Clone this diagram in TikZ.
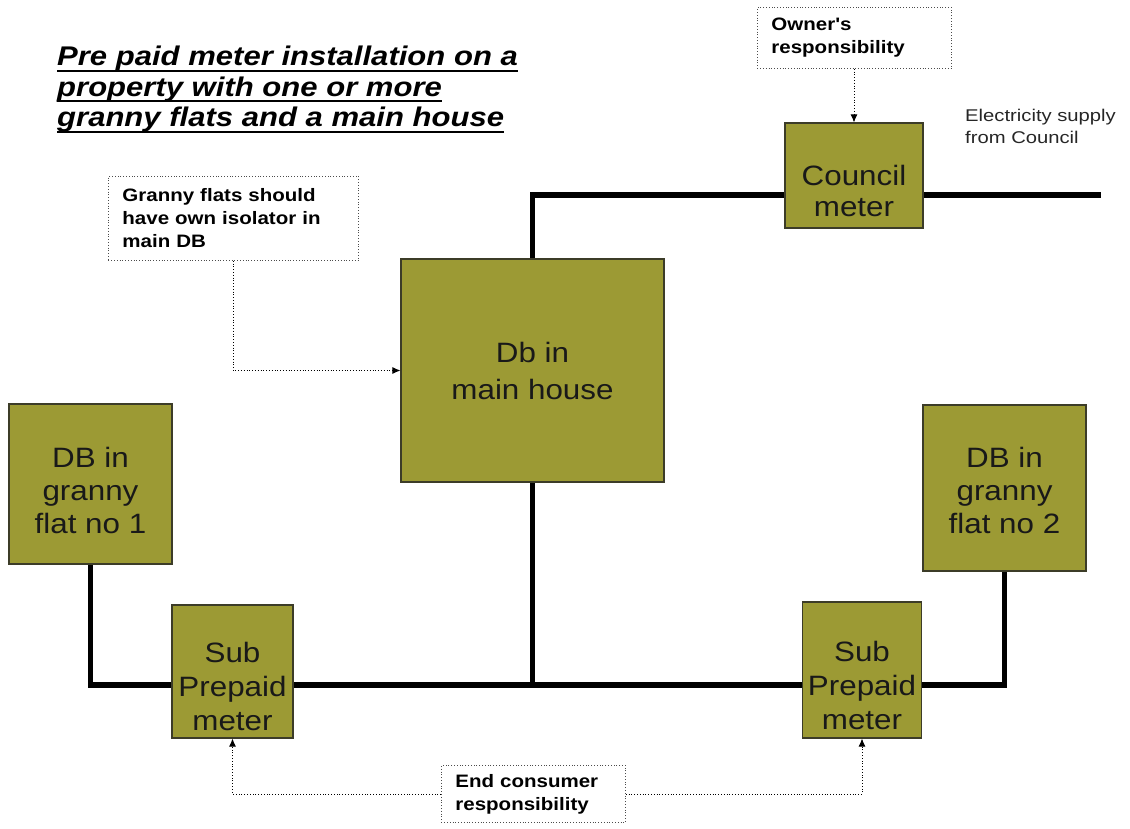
\documentclass[tikz,border=0pt]{standalone}
\usepackage{fontspec}
\setmainfont{Liberation Sans}
\newfontfamily\boxfont[FakeStretch=1.12]{Liberation Sans}
\newfontfamily\notefont[FakeStretch=1.14]{Liberation Sans}
\newfontfamily\supfont[FakeStretch=1.19]{Liberation Sans}
\newfontfamily\titlefont[FakeStretch=1.15]{Liberation Sans}
\usetikzlibrary{arrows.meta,backgrounds}
\definecolor{olivebox}{RGB}{156,154,52}
\definecolor{oliveedge}{RGB}{60,60,40}
\newcommand\titleul[1]{\setbox0\hbox{#1}\rlap{\rule[-6pt]{\wd0}{2pt}}\box0}
\tikzset{
  unit/.style={draw=oliveedge, line width=1.2pt, fill=olivebox, inner sep=0pt},
  unittext/.style={align=center, inner sep=0pt, text=black!90, font=\boxfont\fontsize{28}{#1}\selectfont},
  unittext/.default=33,
  note/.style={draw=black!70, dotted, line width=0.8pt, align=left, inner xsep=14pt, inner ysep=0pt, anchor=north west,
    font=\notefont\bfseries\fontsize{18}{23}\selectfont},
  wire/.style={line width=5.5pt, line cap=rect},
  pointer/.style={dotted, line width=0.8pt, -{Latex[length=8pt,width=7pt]}},
}
\begin{document}
\begin{tikzpicture}[x=1pt,y=-1pt]
\useasboundingbox (0,0) rectangle (1130,828);
% title
\node[anchor=north west, align=left, inner sep=0pt, font=\titlefont\bfseries\itshape\fontsize{27}{30.5}\selectfont] (title) at (57,46)
  {\titleul{Pre paid meter installation on a}\\ \titleul{property with one or more}\\ \titleul{granny flats and a main house}};
% units
\node[unit, minimum width=138pt, minimum height=105pt,
  label={[unittext=31, yshift=-15pt]center:Council\\meter}] (council) at (854,175.5) {};
\node[unit, minimum width=263pt, minimum height=223pt,
  label={[unittext=37]center:Db in\\main house}] (main) at (532.5,370.5) {};
\node[unit, minimum width=163pt, minimum height=160pt,
  label={[unittext, yshift=-6pt]center:DB in\\granny\\flat no 1}] (gf1) at (90.5,484) {};
\node[unit, minimum width=163pt, minimum height=166pt,
  label={[unittext, yshift=-2pt]center:DB in\\granny\\flat no 2}] (gf2) at (1004.5,488) {};
\node[unit, minimum width=121pt, minimum height=133pt,
  label={[unittext=34, yshift=-15pt]center:Sub\\Prepaid\\meter}] (sub1) at (232.5,671.5) {};
\node[unit, minimum width=119pt, minimum height=136pt,
  label={[unittext=34, yshift=-15pt]center:Sub\\Prepaid\\meter}] (sub2) at (862,670) {};
% notes
\node[note, minimum width=194pt, minimum height=61pt, text width=166pt] (owner) at (757,7) {Owner's\\responsibility};
\node[note, minimum width=250pt, minimum height=84pt, text width=222pt] (iso) at (108,176) {Granny flats should\\have own isolator in\\main DB};
\node[note, minimum width=184pt, minimum height=57pt, text width=156pt] (endc) at (441,765) {End consumer\\responsibility};
\node[anchor=north west, align=left, inner sep=0pt, font=\supfont\fontsize{17}{22}\selectfont, text=black!85] (supply) at (965,109) {Electricity supply\\from Council};
% wires
\coordinate (feed) at (1098,195);
\coordinate (junc) at (532.5,685);
\begin{scope}[on background layer]
\draw[wire] (main.north) |- (council.west |- feed);
\draw[wire, line width=6.5pt] (council.east |- feed) -- (feed);
\draw[wire] (main.south) -- (junc);
\draw[wire] (gf1.south) |- (sub1.west |- junc);
\draw[wire] (sub1.east |- junc) -- (sub2.west |- junc);
\draw[wire] (sub2.east |- junc) -| (gf2.south);
\end{scope}
% pointers
\draw[pointer] (owner.south -| council.north) -- (council.north);
\draw[pointer] (iso.south -| 233,0) |- (main.west);
\draw[pointer] (endc.west) -| (sub1.south);
\draw[pointer] (endc.east) -| (sub2.south);
\end{tikzpicture}
\end{document}
